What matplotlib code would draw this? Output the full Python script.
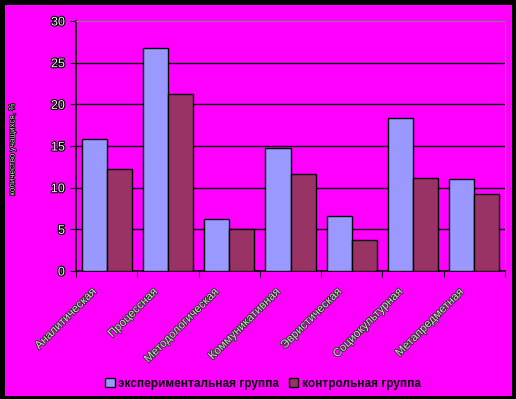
import matplotlib
matplotlib.use("Agg")
import matplotlib.pyplot as plt
import matplotlib.patheffects as pe
from matplotlib.patches import Rectangle
import numpy as np

categories = ["Аналитическая", "Процессная", "Методологическая", "Коммуникативная",
              "Эвристическая", "Социокультурная", "Метапредметная"]
exp_group = [15.9, 26.8, 6.3, 14.8, 6.6, 18.4, 11.0]
ctrl_group = [12.3, 21.2, 5.0, 11.6, 3.7, 11.2, 9.3]
series_names = ["экспериментальная группа", "контрольная группа"]
yticks = [0, 5, 10, 15, 20, 25, 30]

BG, EXP, CTRL = "#FF00FF", "#9999FF", "#993366"
plt.rcParams["font.family"] = ["Liberation Sans", "DejaVu Sans"]

W, H = 516, 399
fig = plt.figure(figsize=(W / 100, H / 100), dpi=100, facecolor="black")
# magenta chart area inside the black frame
fig.patches.append(Rectangle((5 / W, 3 / H), 507 / W, 391 / H, transform=fig.transFigure,
                             facecolor=BG, edgecolor="none", zorder=-10))

ax = fig.add_axes([76 / W, 1 - 271 / H, (505 - 76) / W, (271 - 21) / H])
ax.set_facecolor(BG)

x = np.arange(len(categories))
w = 0.41
ax.bar(x - w / 2, exp_group, w, color=EXP, edgecolor="black", lw=1, zorder=3,
       label=series_names[0])
ax.bar(x + w / 2, ctrl_group, w, color=CTRL, edgecolor="black", lw=1, zorder=3,
       label=series_names[1])

ax.set_xlim(-0.5, len(categories) - 0.5)
ax.set_ylim(0, 30)
for v in yticks[1:-1]:
    ax.axhline(v, color="black", lw=1, zorder=1)

for s in ["top", "right"]:
    ax.spines[s].set_color("#808080")
for s in ["left", "bottom"]:
    ax.spines[s].set_color("black")
    ax.spines[s].set_linewidth(1.2)

outline = [pe.withStroke(linewidth=1.6, foreground="black")]
ax.set_yticks(yticks)
ax.set_yticklabels([str(v) for v in yticks], fontsize=9, color="#eeeeee")
for t in ax.get_yticklabels():
    t.set_path_effects(outline)
ax.tick_params(axis="y", direction="out", length=4, color="black", pad=4)

ax.set_xticks(np.arange(len(categories) + 1) - 0.5)
ax.set_xticklabels([])
ax.tick_params(axis="x", direction="out", length=4, color="black")
for xi, name in zip(x, categories):
    ax.text(xi - 0.27, -1.8, name, rotation=45, ha="right", va="top",
            rotation_mode="anchor", fontsize=8.3, color="#d8d8d8",
            path_effects=[pe.withStroke(linewidth=1.3, foreground="#303030")])

fig.text(13 / W, 1 - 150 / H, "количество учащихся, %", rotation=90, ha="center",
         va="center", fontsize=5.8, color="#e0e0e0",
         path_effects=[pe.withStroke(linewidth=1.2, foreground="black")])

fig.legend(loc="center", bbox_to_anchor=(263 / W, 1 - 384 / H), ncol=2, frameon=False,
           handlelength=0.8, handleheight=0.8, handletextpad=0.3,
           columnspacing=0.8, prop={"weight": "bold", "size": 8.5})

fig.savefig("out.png", dpi=100, facecolor="black")
